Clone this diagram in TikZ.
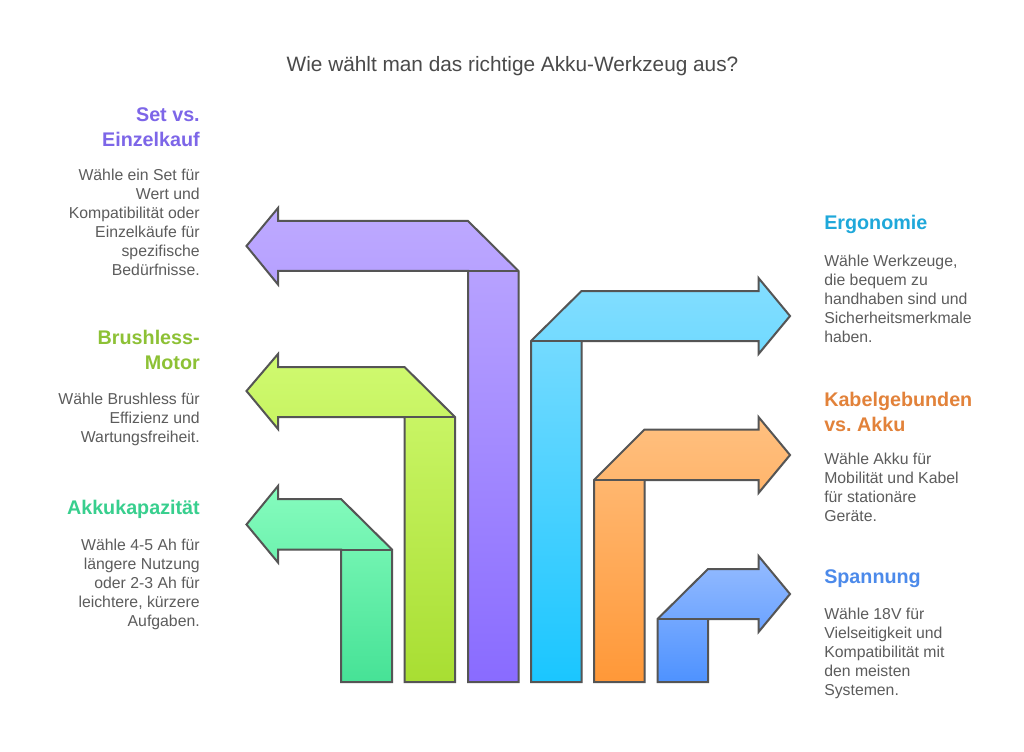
\documentclass[tikz,border=0pt]{standalone}
\usepackage{fontspec}
\usetikzlibrary{shadows}
\setmainfont{Liberation Sans}
\frenchspacing
\definecolor{edge}{HTML}{555555}
\definecolor{bodytext}{HTML}{5C5C5C}
\definecolor{titletext}{HTML}{4A4A4A}
\definecolor{cPurple}{HTML}{7D66E8}
\definecolor{cLime}{HTML}{8DC135}
\definecolor{cMint}{HTML}{38CF8E}
\definecolor{cSky}{HTML}{1FA8DA}
\definecolor{cOrange}{HTML}{E2823A}
\definecolor{cBlue}{HTML}{4C8AEA}
\definecolor{pTop}{RGB}{190,170,255}
\definecolor{pBot}{RGB}{137,107,255}
\definecolor{lTop}{RGB}{208,250,112}
\definecolor{lBot}{RGB}{168,222,50}
\definecolor{mTop}{RGB}{134,252,190}
\definecolor{mBot}{RGB}{70,226,150}
\definecolor{sTop}{RGB}{132,222,255}
\definecolor{sBot}{RGB}{26,198,255}
\definecolor{oTop}{RGB}{255,192,128}
\definecolor{oBot}{RGB}{255,152,56}
\definecolor{bTop}{RGB}{150,188,255}
\definecolor{bBot}{RGB}{78,146,255}
\tikzset{
  x=0.75pt,y=-0.75pt,
  arrowbody/.style={draw=edge,line width=1.5pt,line join=miter,
    drop shadow={shadow xshift=0.6pt,shadow yshift=-0.7pt,fill=black,opacity=0.12}},
  seam/.style={draw=edge,line width=1.5pt},
  heading/.style={font=\fontsize{14.8pt}{18.9pt}\selectfont\bfseries,inner sep=0pt},
  bodyr/.style={font=\fontsize{11.85pt}{14.25pt}\selectfont,text=bodytext,inner sep=0pt,align=right,anchor=north east},
  bodyl/.style={font=\fontsize{11.85pt}{14.25pt}\selectfont,text=bodytext,inner sep=0pt,align=left,anchor=north west},
}
\begin{document}
\begin{tikzpicture}
\useasboundingbox (0,0) rectangle (1024,752);
\fill[white] (0,0) rectangle (1024,752);
% left-pointing arrows
\path[arrowbody,top color=pTop,bottom color=pBot]
  (246.5,246) -- (278,208) -- (278,221) -- (468,221) -- (518.5,271) -- (518.5,682) -- (468,682) -- (468,271) -- (278,271) -- (278,284.5) -- cycle;
\draw[seam] (468,271) -- (518.5,271);
\path[arrowbody,top color=lTop,bottom color=lBot]
  (246.5,391) -- (278,354) -- (278,367) -- (404.5,367) -- (455,417) -- (455,682) -- (404.5,682) -- (404.5,417) -- (278,417) -- (278,429) -- cycle;
\draw[seam] (404.5,417) -- (455,417);
\path[arrowbody,top color=mTop,bottom color=mBot]
  (246.5,524.5) -- (278,486) -- (278,499) -- (341,499) -- (392,549.5) -- (392,682) -- (341,682) -- (341,549.5) -- (278,549.5) -- (278,562.5) -- cycle;
\draw[seam] (341,549.5) -- (392,549.5);
% right-pointing arrows
\path[arrowbody,top color=sTop,bottom color=sBot]
  (790,316) -- (758.5,278) -- (758.5,291) -- (581.5,291) -- (531,341) -- (531,682) -- (581.5,682) -- (581.5,341) -- (758.5,341) -- (758.5,354) -- cycle;
\draw[seam] (531,341) -- (581.5,341);
\path[arrowbody,top color=oTop,bottom color=oBot]
  (790,455) -- (758.5,417) -- (758.5,429.5) -- (644.5,429.5) -- (594,480) -- (594,682) -- (644.5,682) -- (644.5,480) -- (758.5,480) -- (758.5,493) -- cycle;
\draw[seam] (594,480) -- (644.5,480);
\path[arrowbody,top color=bTop,bottom color=bBot]
  (790,594) -- (758.5,556) -- (758.5,569) -- (708,569) -- (657.5,619) -- (657.5,682) -- (708,682) -- (708,619) -- (758.5,619) -- (758.5,632) -- cycle;
\draw[seam] (657.5,619) -- (708,619);
% title
\node[font=\fontsize{15.6pt}{18pt}\selectfont,text=titletext,inner sep=0pt] (title) at (512.5,66) {Wie wählt man das richtige Akku-Werkzeug aus?};
% left texts
\node[heading,text=cPurple,align=right,anchor=north east] (h1) at (200,107.5) {Set vs.\\Einzelkauf};
\node[bodyr] (b1) at (200,168.5) {Wähle ein Set für\\Wert und\\Kompatibilität oder\\Einzelkäufe für\\spezifische\\Bedürfnisse.};
\node[heading,text=cLime,align=right,anchor=north east] (h2) at (200,329.5) {Brushless-\\Motor};
\node[bodyr] (b2) at (200,392.5) {Wähle Brushless für\\Effizienz und\\Wartungsfreiheit.};
\node[heading,text=cMint,align=right,anchor=north east] (h3) at (200,499.5) {Akkukapazität};
\node[bodyr] (b3) at (200,538.5) {Wähle 4-5 Ah für\\längere Nutzung\\oder 2-3 Ah für\\leichtere, kürzere\\Aufgaben.};
% right texts
\node[heading,text=cSky,align=left,anchor=north west] (h4) at (824,215) {Ergonomie};
\node[bodyl] (b4) at (824,254.5) {Wähle Werkzeuge,\\die bequem zu\\handhaben sind und\\Sicherheitsmerkmale\\haben.};
\node[heading,text=cOrange,align=left,anchor=north west] (h5) at (824,391.5) {Kabelgebunden\\vs. Akku};
\node[bodyl] (b5) at (824,452.5) {Wähle Akku für\\Mobilität und Kabel\\für stationäre\\Geräte.};
\node[heading,text=cBlue,align=left,anchor=north west] (h6) at (824,569.5) {Spannung};
\node[bodyl] (b6) at (824,607.5) {Wähle 18V für\\Vielseitigkeit und\\Kompatibilität mit\\den meisten\\Systemen.};
\end{tikzpicture}
\end{document}
